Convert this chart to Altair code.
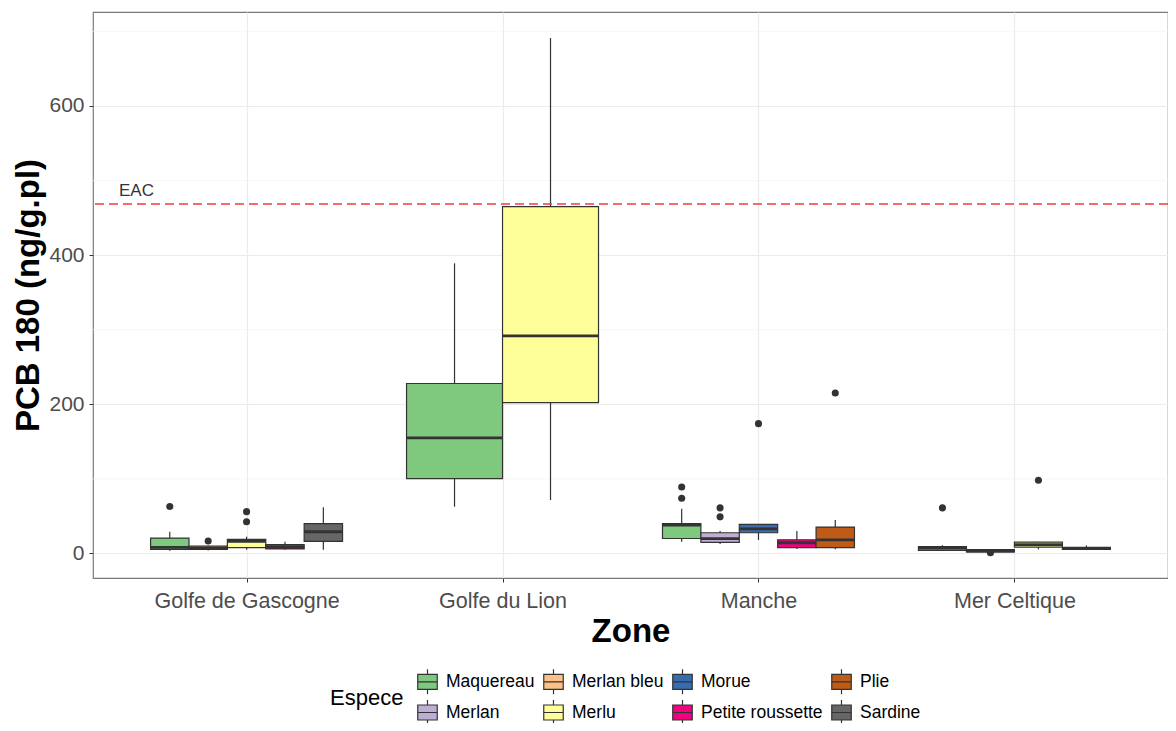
import json
import altair as alt
import pandas as pd

zones = ["Golfe de Gascogne", "Golfe du Lion", "Manche", "Mer Celtique"]
species_order = ["Maquereau", "Merlan", "Merlan bleu", "Merlu", "Morue",
                 "Petite roussette", "Plie", "Sardine"]
species_colors = ["#7FC97F", "#BEAED4", "#FDC086", "#FFFF99", "#386CB0",
                  "#F0027F", "#BF5B17", "#666666"]

box_zone = ["Golfe de Gascogne"] * 5 + ["Golfe du Lion"] * 2 + ["Manche"] * 5 + ["Mer Celtique"] * 4
box_species = ["Maquereau", "Merlan bleu", "Merlu", "Petite roussette", "Sardine",
               "Maquereau", "Merlu",
               "Maquereau", "Merlan", "Morue", "Petite roussette", "Plie",
               "Maquereau", "Merlan", "Merlu", "Sardine"]
box_lower = [3.4, 4.0, 5.0, 5.0, 5.0,
             62.6, 71.6,
             15.7, 12.5, 18.0, 6.0, 5.4,
             3.5, 1.8, 5.4, 5.0]
box_q1 = [5.4, 5.4, 7.6, 6.0, 16.0,
          100.2, 202.2,
          20.0, 14.8, 27.7, 7.6, 7.6,
          4.0, 2.0, 8.5, 5.4]
box_median = [8.0, 7.0, 16.0, 8.5, 29.0,
              154.8, 291.7,
              38.0, 19.7, 33.0, 14.3, 18.0,
              7.0, 3.0, 11.7, 6.5]
box_q3 = [20.5, 9.8, 18.8, 11.7, 40.0,
          227.8, 464.9,
          40.0, 27.7, 39.0, 18.3, 35.3,
          9.0, 5.0, 15.2, 8.0]
box_upper = [29.0, 10.5, 22.4, 15.7, 62.0,
             389.0, 691.3,
             60.0, 30.0, 39.0, 30.0, 44.7,
             11.0, 5.5, 15.5, 10.7]

out_zone = ["Golfe de Gascogne", "Golfe de Gascogne", "Golfe de Gascogne", "Golfe de Gascogne",
            "Manche", "Manche", "Manche", "Manche", "Manche", "Manche",
            "Mer Celtique", "Mer Celtique", "Mer Celtique"]
out_species = ["Maquereau", "Merlan bleu", "Merlu", "Merlu",
               "Maquereau", "Maquereau", "Merlan", "Merlan", "Morue", "Plie",
               "Maquereau", "Merlan", "Merlu"]
out_value = [63.0, 16.5, 56.0, 42.5,
             89.0, 74.0, 61.0, 49.0, 174.0, 215.0,
             61.0, 0.8, 98.0]

eac_value = [468.5]
eac_label = ["EAC"]
eac_label_pos = [0.57, 486.0]
y_major = [0, 200, 400, 600]
y_minor = [100, 300, 500, 700]

# ---- dodge positions (ggplot style: total width 0.75 split among boxes of a zone)
boxes = pd.DataFrame({
    "zone": box_zone, "species": box_species, "lower": box_lower, "q1": box_q1,
    "median": box_median, "q3": box_q3, "upper": box_upper,
})
boxes["zi"] = boxes["zone"].map({z: i + 1 for i, z in enumerate(zones)})
boxes["k"] = boxes.groupby("zone").cumcount()
boxes["n"] = boxes.groupby("zone")["species"].transform("count")
boxes["w"] = 0.75 / boxes["n"]
boxes["xmin"] = boxes["zi"] - 0.375 + boxes["k"] * boxes["w"]
boxes["xmax"] = boxes["xmin"] + boxes["w"]
boxes["xc"] = (boxes["xmin"] + boxes["xmax"]) / 2

outs = pd.DataFrame({"zone": out_zone, "species": out_species, "value": out_value})
outs = outs.merge(boxes[["zone", "species", "xc"]], on=["zone", "species"], how="left")

minor_df = pd.DataFrame({"v": y_minor})
eac_df = pd.DataFrame({"v": eac_value})
eac_txt = pd.DataFrame({"x": [eac_label_pos[0]], "y": [eac_label_pos[1]], "t": eac_label})

# legend order: ggplot fills column by column in 2 rows
legend_idx = [0, 2, 4, 6, 1, 3, 5, 7]
legend_domain = [species_order[i] for i in legend_idx]
legend_range = [species_colors[i] for i in legend_idx]

FONT = "Liberation Sans"
xscale = alt.Scale(domain=[0.4, 4.6], nice=False, zero=False)
yscale = alt.Scale(domain=[-33, 726], nice=False, zero=False)
label_expr = json.dumps(zones).replace('"', "'") + "[datum.value - 1]"
xaxis = alt.Axis(values=[1, 2, 3, 4], labelExpr=label_expr, title="Zone",
                 labelFontSize=21.5, labelColor="#4d4d4d", tickColor="#333333",
                 tickSize=4, labelPadding=8, labelLimit=0, titleFontSize=33,
                 titleFontWeight="bold", titleColor="#000000", titlePadding=4,
                 grid=True, gridColor="#ebebeb", gridWidth=1.2, domain=False,
                 labelFont=FONT, titleFont=FONT)
yaxis = alt.Axis(values=y_major, title="PCB 180 (ng/g.pl)", labelFontSize=21,
                 labelColor="#4d4d4d", tickColor="#333333", tickSize=4, labelPadding=5,
                 titleFontSize=33, titleFontWeight="bold", titleColor="#000000",
                 titlePadding=3, grid=True, gridColor="#ebebeb", gridWidth=1.2,
                 domain=False, labelFont=FONT, titleFont=FONT)


def X(field):
    return alt.X(field, type="quantitative", scale=xscale, axis=xaxis, title="Zone")


def Y(field):
    return alt.Y(field, type="quantitative", scale=yscale, axis=yaxis, title="PCB 180 (ng/g.pl)")


box_path = ("M-0.78,-0.6H0.78V0.6H-0.78Z M-0.78,0H0.78 "
            "M0,-0.6V-1 M0,0.6V1")

minor = alt.Chart(minor_df).mark_rule(color="#f4f4f4", strokeWidth=0.7).encode(y=Y("v"))

whisk = alt.Chart(boxes).mark_rule(color="#333333", strokeWidth=1.2).encode(
    x=X("xc"), y=Y("lower"), y2="upper")

rect = alt.Chart(boxes).mark_rect(stroke="#333333", strokeWidth=1.2, opacity=1).encode(
    x=X("xmin"), x2="xmax", y=Y("q1"), y2="q3",
    color=alt.Color("species:N",
                    scale=alt.Scale(domain=legend_domain, range=legend_range),
                    legend=alt.Legend(
                        title="Espece", orient="none", legendX=237, legendY=656,
                        direction="horizontal", columns=4, titleOrient="left",
                        titleAnchor="middle", titleFontSize=22, titleFontWeight="normal",
                        titleColor="#000000", titleFont=FONT, titlePadding=10,
                        labelFontSize=17.5, labelColor="#000000", labelFont=FONT,
                        labelOffset=5, symbolType=box_path, symbolSize=625,
                        symbolStrokeColor="#333333", symbolStrokeWidth=1.2,
                        symbolOpacity=1, columnPadding=5, rowPadding=0)))

med = alt.Chart(boxes).mark_rule(color="#333333", strokeWidth=2.8).encode(
    x=X("xmin"), x2="xmax", y=Y("median"))

pts = alt.Chart(outs).mark_circle(color="#333333", size=50, opacity=1).encode(
    x=X("xc"), y=Y("value"))

eac_line = alt.Chart(eac_df).mark_rule(color="#f03b3b", strokeWidth=1.3,
                                       strokeDash=[9, 5]).encode(y=Y("v"))

eac_text = alt.Chart(eac_txt).mark_text(fontSize=17, color="#333333", font=FONT,
                                        align="center", baseline="middle").encode(
    x=X("x"), y=Y("y"), text="t:N")

chart = alt.layer(minor, whisk, rect, med, pts, eac_line, eac_text).properties(
    width=1075, height=566,
    autosize=alt.AutoSizeParams(type="none"),
    padding={"left": 85, "top": 4, "right": 0, "bottom": 145},
).configure(font=FONT).configure_view(stroke="#7a7a7a", strokeWidth=1.2)

chart.save("out.html", embed_options={"renderer": "svg", "actions": False})
